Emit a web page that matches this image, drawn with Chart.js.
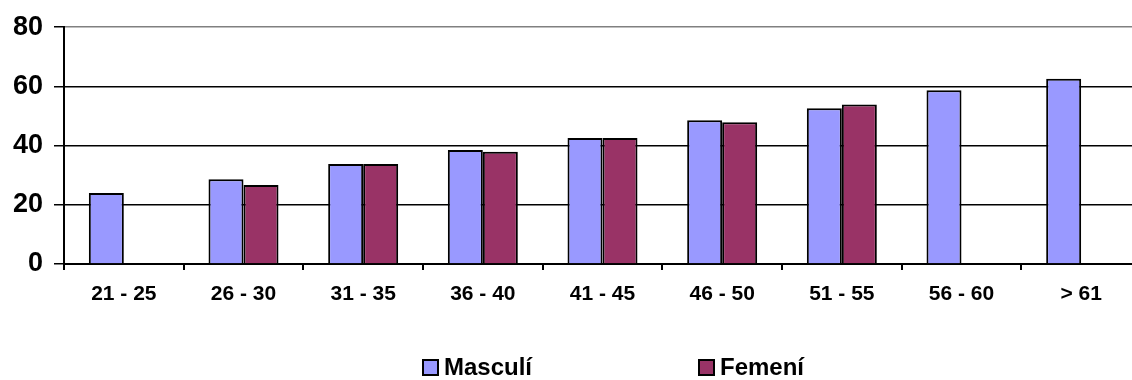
<!DOCTYPE html>
<html>
<head>
<meta charset="utf-8">
<script src="https://cdn.jsdelivr.net/npm/chart.js@4/dist/chart.umd.min.js"></script>
<style>
  html, body { margin: 0; padding: 0; background: #fff; overflow: hidden; }
  #wrap { width: 1141px; height: 380px; position: relative; }
</style>
</head>
<body>
<div id="wrap"><canvas id="chart"></canvas></div>
<script>
// Age groups and values per sex
const categories = ['21 - 25', '26 - 30', '31 - 35', '36 - 40', '41 - 45', '46 - 50', '51 - 55', '56 - 60', '> 61'];
const masculi = [24, 28.6, 33.8, 38.5, 42.6, 48.6, 52.6, 58.7, 62.6];
const femeni  = [null, 26.7, 33.8, 37.9, 42.6, 47.9, 53.9, null, null];
const yTicks  = [0, 20, 40, 60, 80];
const seriesNames = ['Masculí', 'Femení'];

const FONT = '"Liberation Sans", Arial, Helvetica, sans-serif';

// Legend drawn below the axis labels
const bottomLegend = {
  id: 'bottomLegend',
  afterDraw(chart) {
    const ctx = chart.ctx;
    const startX = 422, step = 276, boxY = 359, box = 17;
    ctx.save();
    ctx.font = 'bold 24px ' + FONT;
    ctx.textBaseline = 'middle';
    ctx.textAlign = 'left';
    chart.data.datasets.forEach((ds, i) => {
      const x = startX + i * step;
      ctx.fillStyle = ds.backgroundColor;
      ctx.fillRect(x, boxY, box, box);
      ctx.lineWidth = 2;
      ctx.strokeStyle = '#000';
      ctx.strokeRect(x + 1, boxY + 1, box - 2, box - 2);
      ctx.fillStyle = '#000';
      ctx.fillText(ds.label, x + box + 5, boxY + box / 2 + 1);
    });
    ctx.restore();
  }
};

new Chart(document.getElementById('chart'), {
  type: 'bar',
  data: {
    labels: categories,
    datasets: [
      { label: seriesNames[0], data: masculi, backgroundColor: '#9999FF', borderColor: '#000', borderWidth: 2 },
      { label: seriesNames[1], data: femeni,  backgroundColor: '#993366', borderColor: '#000', borderWidth: 2 }
    ]
  },
  options: {
    responsive: true,
    maintainAspectRatio: false,
    animation: false,
    layout: { padding: { top: 24, right: 0, bottom: 0, left: 0 } },
    datasets: { bar: { categoryPercentage: 0.585, barPercentage: 1.0 } },
    plugins: { legend: { display: false }, tooltip: { enabled: false } },
    scales: {
      x: {
        grid: { display: true, drawOnChartArea: false, drawTicks: true, tickLength: 6, color: '#000', lineWidth: 2 },
        border: { color: '#000', width: 2 },
        ticks: { color: '#000', font: { family: FONT, size: 21, weight: 'bold' }, padding: 12, maxRotation: 0 },
        afterFit(scale) { scale.height = 116; }
      },
      y: {
        min: 0, max: 80,
        afterBuildTicks(scale) { scale.ticks = yTicks.map(v => ({ value: v })); },
        grid: {
          color: c => (c.tick && c.tick.value === 80 ? '#808080' : '#000'),
          tickColor: '#000',
          lineWidth: 1.5,
          tickLength: 10
        },
        border: { color: '#000', width: 2 },
        ticks: { color: '#000', font: { family: FONT, size: 27, weight: 'bold' }, padding: 11 },
        afterFit(scale) { scale.width = 64; }
      }
    }
  },
  plugins: [bottomLegend]
});
</script>
</body>
</html>
